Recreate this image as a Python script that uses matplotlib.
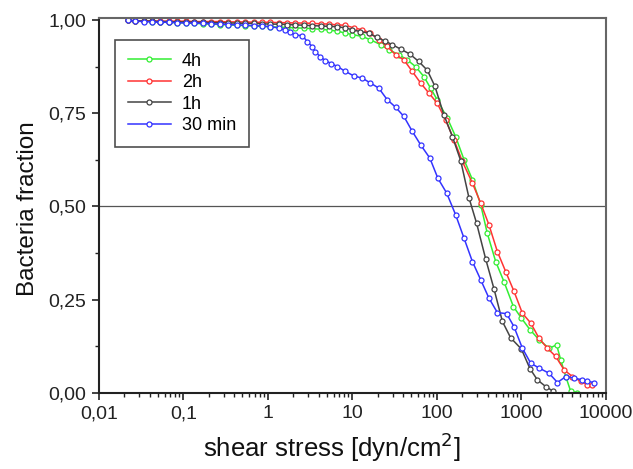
import matplotlib
matplotlib.use("Agg")
import matplotlib.pyplot as plt
from matplotlib.ticker import FixedLocator, FixedFormatter, LogLocator, NullFormatter

plt.rcParams['font.family'] = ['Liberation Sans', 'DejaVu Sans']

# shared low-stress readings (dyn/cm2)
x_flat = [0.022, 0.027, 0.034, 0.043, 0.053, 0.068, 0.085, 0.109, 0.135, 0.173,
          0.215, 0.274, 0.341, 0.437, 0.543, 0.693, 0.863, 1.07, 1.34, 1.71,
          2.12, 2.72, 3.38, 4.32, 5.37, 6.68]

# 4h
x_4h = x_flat + [8.3, 9.97, 13.1, 16.4, 21.6, 27.1, 35.6, 44.7, 56.1, 70.4, 84.5,
                 101, 133, 167, 210, 264, 331, 396, 498, 624, 807, 1003, 1268,
                 1622, 2130, 2620, 2930, 3360, 3850, 4620]
y_4h = [1.000, 0.999, 0.998, 0.997, 0.996, 0.995, 0.994, 0.993, 0.992, 0.991,
        0.990, 0.989, 0.988, 0.987, 0.986, 0.985, 0.984, 0.983, 0.982, 0.981,
        0.980, 0.979, 0.978, 0.976, 0.974, 0.971,
        0.966, 0.962, 0.957, 0.948, 0.935, 0.921, 0.908, 0.894, 0.876, 0.849, 0.818,
        0.787, 0.738, 0.688, 0.626, 0.572, 0.505, 0.428, 0.352, 0.298, 0.231, 0.200, 0.169,
        0.142, 0.119, 0.128, 0.088, 0.043, 0.003, 0.000]

# 2h
x_2h = x_flat + [8.3, 10.4, 13.1, 16.4, 20.6, 25.9, 32.5, 40.8, 51.3, 64.3, 80.5,
                 101, 127, 160, 201, 264, 331, 414, 521, 654, 820, 1031, 1292,
                 1622, 2040, 2560, 3210, 4030, 5060, 6070, 6950]
y_2h = [1.000, 0.999, 0.999, 0.999, 0.998, 0.998, 0.998, 0.998, 0.997, 0.997,
        0.997, 0.997, 0.996, 0.996, 0.996, 0.995, 0.995, 0.995, 0.994, 0.994,
        0.993, 0.993, 0.992, 0.991, 0.990, 0.988,
        0.987, 0.980, 0.975, 0.966, 0.948, 0.930, 0.908, 0.894, 0.863, 0.832, 0.805,
        0.778, 0.733, 0.679, 0.621, 0.563, 0.509, 0.451, 0.379, 0.325, 0.272, 0.213, 0.187,
        0.146, 0.119, 0.097, 0.061, 0.043, 0.030, 0.021, 0.021]

# 1h
x_1h = x_flat + [8.3, 9.97, 12.5, 15.6, 19.4, 24.1, 29.7, 37.3, 47.7, 61.0, 77.3,
                 95.1, 121, 153, 192, 240, 296, 379, 475, 598, 749, 1003, 1268,
                 1552, 1950, 2400]
y_1h = [1.000, 0.999, 0.998, 0.998, 0.997, 0.997, 0.996, 0.996, 0.995, 0.995,
        0.994, 0.994, 0.993, 0.993, 0.992, 0.992, 0.991, 0.990, 0.990, 0.989,
        0.988, 0.987, 0.986, 0.985, 0.984, 0.983,
        0.980, 0.975, 0.970, 0.966, 0.955, 0.945, 0.935, 0.923, 0.910, 0.890, 0.866,
        0.823, 0.747, 0.688, 0.623, 0.524, 0.455, 0.359, 0.279, 0.191, 0.147, 0.117, 0.064,
        0.034, 0.016, 0.003]

# 30 min
x_30m = x_flat[:19] + [1.62, 1.85, 2.12, 2.57, 2.94, 3.38, 3.66, 4.20, 4.81, 5.67,
                       6.68, 8.30, 10.4, 13.1, 16.4, 20.6, 25.9, 32.5, 40.8, 51.3,
                       64.3, 82.8, 103, 131, 167, 210, 264, 331, 414, 521, 671, 820,
                       1031, 1292, 1622, 2130, 2680, 3360, 4210, 5290, 6070, 7270]
y_30m = [1.000, 0.998, 0.997, 0.996, 0.995, 0.995, 0.994, 0.993, 0.993, 0.992,
         0.991, 0.990, 0.989, 0.988, 0.987, 0.986, 0.985, 0.983, 0.980,
         0.974, 0.968, 0.961, 0.959, 0.943, 0.929, 0.916, 0.902, 0.892, 0.884,
         0.876, 0.863, 0.851, 0.845, 0.832, 0.818, 0.787, 0.767, 0.742, 0.702,
         0.666, 0.630, 0.576, 0.536, 0.478, 0.415, 0.352, 0.303, 0.254, 0.215, 0.212, 0.177,
         0.119, 0.079, 0.066, 0.052, 0.027, 0.043, 0.039, 0.034, 0.030, 0.027]

series = [
    ("4h", x_4h, y_4h, "#33ee33"),
    ("2h", x_2h, y_2h, "#ff3333"),
    ("1h", x_1h, y_1h, "#444444"),
    ("30 min", x_30m, y_30m, "#3333ff"),
]

x_ticks = [0.01, 0.1, 1, 10, 100, 1000, 10000]
x_labels = ["0,01", "0,1", "1", "10", "100", "1000", "10000"]
y_ticks = [0.0, 0.25, 0.5, 0.75, 1.0]
y_labels = ["0,00", "0,25", "0,50", "0,75", "1,00"]

fig = plt.figure(figsize=(6.33, 4.69), dpi=100)
ax = fig.add_axes([0.156, 0.163, 0.801, 0.799])

for name, xs, ys, col in series:
    ax.plot(xs, ys, "-o", color=col, lw=1.1, ms=3.6, mfc="white", mec=col,
            mew=0.9, label=name)

ax.axhline(0.5, color="#555555", lw=0.9, zorder=0)

ax.set_xscale("log")
ax.set_xlim(0.01, 10000)
ax.set_ylim(0, 1.007)

ax.xaxis.set_major_locator(FixedLocator(x_ticks))
ax.xaxis.set_major_formatter(FixedFormatter(x_labels))
ax.xaxis.set_minor_locator(LogLocator(base=10, subs=range(2, 10), numticks=20))
ax.xaxis.set_minor_formatter(NullFormatter())
ax.yaxis.set_major_locator(FixedLocator(y_ticks))
ax.yaxis.set_major_formatter(FixedFormatter(y_labels))
ax.yaxis.set_minor_locator(FixedLocator([0.125, 0.375, 0.625, 0.875]))

ax.tick_params(which="major", direction="out", length=5, width=1.2, labelsize=14,
               colors="#222222", labelcolor="#222222", pad=4)
ax.tick_params(which="minor", direction="out", length=3, width=1.0, colors="#222222")

for side in ["left", "bottom"]:
    ax.spines[side].set_linewidth(1.5)
    ax.spines[side].set_color("#222222")
for side in ["top", "right"]:
    ax.spines[side].set_linewidth(1.5)
    ax.spines[side].set_color("#666666")

ax.set_xlabel("shear stress [dyn/cm$^2$]", fontsize=18.5, color="#111111")
ax.set_ylabel("Bacteria fraction", fontsize=17.5, color="#111111")
ax.xaxis.set_label_coords(0.46, -0.10)
ax.yaxis.set_label_coords(-0.118, 0.49)

leg = ax.legend(loc="upper left", bbox_to_anchor=(0.032, 0.941), borderaxespad=0,
                fontsize=13, frameon=True, fancybox=False, edgecolor="#222222",
                handlelength=2.4, borderpad=0.7, labelspacing=0.25, handletextpad=0.6)
leg.get_frame().set_linewidth(1.2)

fig.savefig("out.png", dpi=100)
